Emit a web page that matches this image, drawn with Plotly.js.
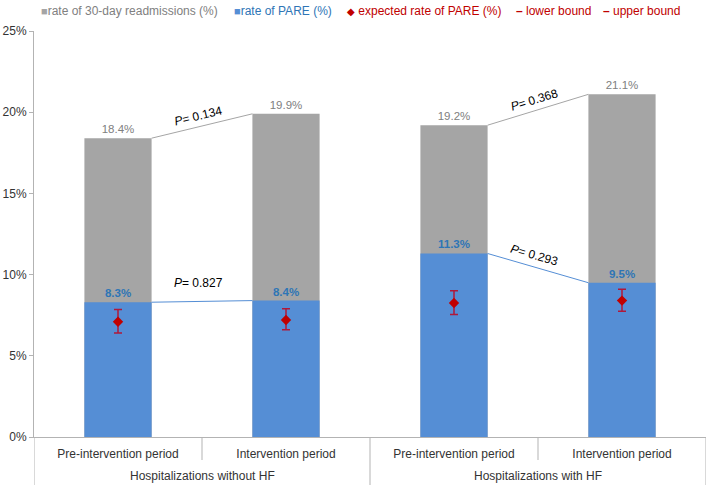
<!DOCTYPE html>
<html>
<head>
<meta charset="utf-8">
<script src="https://cdn.plot.ly/plotly-3.0.1.min.js"></script>
<style>html,body{margin:0;padding:0;background:#fff;}#chart{width:709px;height:485px;}</style>
</head>
<body>
<div id="chart"></div>
<script>
const categories = ['Pre-intervention period', 'Intervention period', 'Pre-intervention period', 'Intervention period'];
const groups = ['Hospitalizations without HF', 'Hospitalizations with HF'];
const readmissionRate = [18.4, 19.9, 19.2, 21.1];
const pareRate = [8.3, 8.4, 11.3, 9.5];
const expectedPare = [7.1, 7.2, 8.25, 8.4];
const lowerBound = [6.4, 6.6, 7.55, 7.75];
const upperBound = [7.85, 7.9, 9.0, 9.1];
const pReadmission = ['0.134', '0.368'];
const pPare = ['0.827', '0.293'];
const yTicks = [0, 5, 10, 15, 20, 25];

const W = 709, H = 485;
const M = {l: 34, r: 3, t: 31, b: 48};
const plotW = W - M.l - M.r, plotH = H - M.t - M.b;
const pxPerX = plotW / 4, pxPerY = plotH / 25;
const barW = 0.4;
const idx = categories.map((c, i) => i);

const GRAY = '#A5A5A5', BLUE = '#558ED5', RED = '#C00000';
const FONT = 'Liberation Sans, Arial, sans-serif';

const traces = [
  {type: 'bar', x: idx, y: readmissionRate, width: barW, marker: {color: GRAY},
   text: readmissionRate.map(v => v.toFixed(1) + '%'), textposition: 'outside',
   textfont: {color: '#808080', size: 11.5, family: FONT}, cliponaxis: false, showlegend: false, hoverinfo: 'skip'},
  {type: 'bar', x: idx, y: pareRate, width: barW, marker: {color: BLUE},
   text: pareRate.map(v => '<b>' + v.toFixed(1) + '%</b>'), textposition: 'outside',
   textfont: {color: '#2E75B6', size: 11.5, family: FONT}, cliponaxis: false, showlegend: false, hoverinfo: 'skip'},
  {type: 'scatter', mode: 'markers', x: idx, y: expectedPare,
   marker: {symbol: 'diamond', size: 8, color: RED},
   error_y: {type: 'data', symmetric: false,
     array: upperBound.map((u, i) => u - expectedPare[i]),
     arrayminus: lowerBound.map((l, i) => expectedPare[i] - l),
     color: '#B0183A', thickness: 1.5, width: 4},
   showlegend: false, cliponaxis: false, hoverinfo: 'skip'}
];

const pairs = [[0, 1], [2, 3]];
const annotations = [];
pairs.forEach((p, g) => {
  const [i, j] = p;
  const xs = [i + barW / 2, j - barW / 2];
  traces.push({type: 'scatter', mode: 'lines', x: xs, y: [readmissionRate[i], readmissionRate[j]],
    line: {color: GRAY, width: 1}, showlegend: false, hoverinfo: 'skip'});
  traces.push({type: 'scatter', mode: 'lines', x: xs, y: [pareRate[i], pareRate[j]],
    line: {color: BLUE, width: 1}, showlegend: false, hoverinfo: 'skip'});
  const angle = (a, b) => {
    const dx = (xs[1] - xs[0]) * pxPerX, dy = (b - a) * pxPerY;
    return -Math.atan2(dy, dx) * 180 / Math.PI;
  };
  const aR = angle(readmissionRate[i], readmissionRate[j]);
  annotations.push({x: (i + j) / 2, y: (readmissionRate[i] + readmissionRate[j]) / 2, xref: 'x', yref: 'y',
    text: '<i>P</i>= ' + pReadmission[g], showarrow: false, textangle: aR, yshift: 10, xshift: -4,
    font: {size: 12, color: '#000', family: FONT}});
  const aP = angle(pareRate[i], pareRate[j]);
  annotations.push({x: (i + j) / 2, y: (pareRate[i] + pareRate[j]) / 2, xref: 'x', yref: 'y',
    text: '<i>P</i>= ' + pPare[g], showarrow: false, textangle: Math.abs(aP) < 3 ? 0 : aP,
    yshift: Math.abs(aP) < 3 ? 18 : 13, xshift: -4,
    font: {size: 12, color: '#000', family: FONT}});
  annotations.push({x: (i + j) / 2, y: -39 / plotH, xref: 'x', yref: 'paper', yanchor: 'middle',
    text: groups[g], showarrow: false, font: {size: 12, color: '#333', family: FONT}});
});

// legend (drawn as annotations so each entry keeps its own colour)
const legendItems = [
  {px: 39, sym: '<span style="font-size:11px;color:' + GRAY + '">■</span>', text: 'rate of 30-day readmissions (%)', color: '#808080'},
  {px: 232, sym: '<span style="font-size:11px;color:' + BLUE + '">■</span>', text: 'rate of PARE (%)', color: '#2E75B6'},
  {px: 345, sym: '<span style="font-size:10px;color:' + RED + '">◆</span> ', text: 'expected rate of PARE (%)', color: RED},
  {px: 514, sym: '<span style="color:' + RED + '"><b>–</b></span> ', text: 'lower bound', color: RED},
  {px: 601, sym: '<span style="color:' + RED + '"><b>–</b></span> ', text: 'upper bound', color: RED}
];
legendItems.forEach(it => annotations.push({
  x: (it.px - M.l) / plotW, y: 1 + (M.t - 11) / plotH, xref: 'paper', yref: 'paper',
  xanchor: 'left', yanchor: 'middle', showarrow: false,
  text: it.sym + it.text, font: {size: 12, color: it.color, family: FONT}
}));

const shapes = [];
const DIV = '#B3B3B3';
[-0.5, 1.5, 3.5].forEach(x => shapes.push({type: 'line', xref: 'x', yref: 'paper', x0: x, x1: x, y0: 0, y1: -M.b / plotH, line: {color: DIV, width: 1}}));
[0.5, 2.5].forEach(x => shapes.push({type: 'line', xref: 'x', yref: 'paper', x0: x, x1: x, y0: 0, y1: -23 / plotH, line: {color: DIV, width: 1}}));

const layout = {
  width: W, height: H, margin: M,
  paper_bgcolor: '#fff', plot_bgcolor: '#fff',
  barmode: 'overlay', showlegend: false,
  font: {family: FONT, size: 12, color: '#333'},
  xaxis: {range: [-0.5, 3.5], tickvals: idx, ticktext: categories, showgrid: false, zeroline: false,
    showline: true, linecolor: DIV, linewidth: 1, ticks: 'outside', ticklen: 6, tickcolor: 'rgba(0,0,0,0)',
    tickfont: {size: 12, color: '#333', family: FONT}, fixedrange: true},
  yaxis: {range: [0, 25], tickvals: yTicks, ticktext: yTicks.map(v => v + '%'), showgrid: false, zeroline: false,
    showline: true, linecolor: DIV, linewidth: 1, ticks: 'outside', ticklen: 4, tickcolor: DIV,
    tickfont: {size: 12, color: '#333', family: FONT}, fixedrange: true},
  annotations: annotations,
  shapes: shapes
};

Plotly.newPlot('chart', traces, layout, {displayModeBar: false, staticPlot: true});
</script>
</body>
</html>
